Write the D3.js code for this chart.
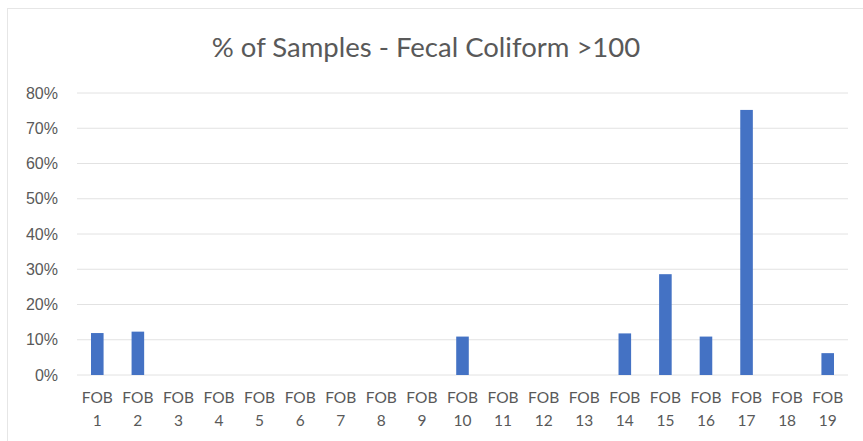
<!DOCTYPE html>
<html><head><meta charset="utf-8">
<script src="https://cdn.jsdelivr.net/npm/d3@7/dist/d3.min.js"></script>
<style>body{margin:0;background:#fff;}svg{display:block;font-family:Lato,"Open Sans",sans-serif;}</style>
</head><body>
<svg id="c" width="863" height="441"></svg>
<script>
const categories = ["FOB 1","FOB 2","FOB 3","FOB 4","FOB 5","FOB 6","FOB 7","FOB 8","FOB 9","FOB 10","FOB 11","FOB 12","FOB 13","FOB 14","FOB 15","FOB 16","FOB 17","FOB 18","FOB 19"];
const values = [0.119,0.123,0,0,0,0,0,0,0,0.109,0,0,0,0.118,0.286,0.109,0.752,0,0.062];
const yTicks = [0,0.1,0.2,0.3,0.4,0.5,0.6,0.7,0.8];
const title = "% of Samples - Fecal Coliform >100";

const svg = d3.select("#c");
const m = {left:77, right:848, top:93, bottom:375};
svg.append("rect").attr("x",7.5).attr("y",8.5).attr("width",870).attr("height",440)
  .attr("fill","none").attr("stroke","#e6e6e6");

const x = d3.scaleBand().domain(categories).range([m.left,m.right]).paddingInner(0.69).paddingOuter(0.345);
const y = d3.scaleLinear().domain([0,0.8]).range([m.bottom,m.top]);

svg.append("g").selectAll("line").data(yTicks).join("line")
  .attr("x1",m.left).attr("x2",m.right).attr("y1",d=>y(d)).attr("y2",d=>y(d))
  .attr("stroke","#e2e2e2").attr("stroke-width",1);

const yAxis = svg.append("g").attr("transform",`translate(${m.left},0)`)
  .call(d3.axisLeft(y).tickValues(yTicks).tickFormat(d3.format(".0%")).tickSize(0).tickPadding(19));
yAxis.select(".domain").remove();
yAxis.selectAll("text").attr("fill","#595959").style("font-size","16px");

svg.append("g").selectAll("rect").data(values).join("rect")
  .attr("x",(d,i)=>x(categories[i])).attr("width",x.bandwidth())
  .attr("y",d=>y(d)).attr("height",d=>y(0)-y(d)).attr("fill","#4472C4");

const xl = svg.append("g").selectAll("text").data(categories).join("text")
  .attr("text-anchor","middle").attr("fill","#595959").style("font-size","15.5px");
xl.append("tspan").attr("x",d=>x(d)+x.bandwidth()/2).attr("y",403).text(d=>d.split(" ")[0]);
xl.append("tspan").attr("x",d=>x(d)+x.bandwidth()/2).attr("y",426).text(d=>d.split(" ")[1]);

svg.append("text").attr("x",426).attr("y",57).attr("text-anchor","middle")
  .attr("fill","#595959").style("font-size","27.5px").text(title);
</script>
</body></html>
